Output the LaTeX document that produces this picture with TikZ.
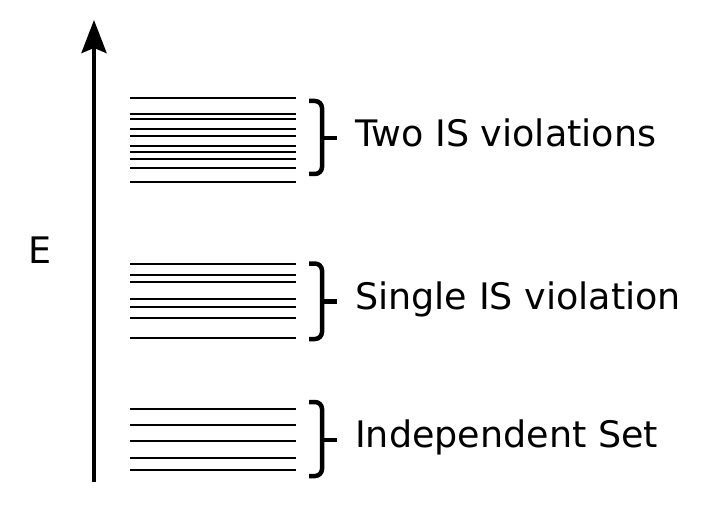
\documentclass[tikz,border=0pt]{standalone}
\usepackage{fontspec}
\setmainfont{DejaVu Sans}
\usetikzlibrary{arrows.meta,positioning}

\begin{document}
\begin{tikzpicture}[x=1pt,y=-1pt,
	nivel/.style={line width=2.2pt},
	chave/.style={line width=4.5pt,rounded corners=7pt},
	rotulo/.style={anchor=base west,inner sep=0pt,font=\fontsize{36.5}{44}\selectfont}]

	\useasboundingbox (0,0) rectangle (708,518);

	% Energy axis
	\coordinate (base) at (94,482);
	\coordinate (topo) at (94,20);
	\draw[line width=4pt,-{Stealth[length=33pt,width=25pt,inset=5pt]}] (base) -- (topo);
	\node[rotulo] (E) at (28,263) {E};

	% Two IS violations
	\foreach \y in {97.7,114.3,119.3,129.3,136,146,151.7,159,168.3,181.7}
		\draw[nivel] (130,\y) -- (296,\y);
	\coordinate (c1a) at (309,101);
	\coordinate (c1b) at (309,174);
	\coordinate (c1m) at (337,138);
	\draw[chave] (c1a) -- (322,101) -- (322,174) -- (c1b);
	\draw[line width=4.5pt] (322,138) -- (c1m);
	\node[rotulo] (dois) at (355,146.7) {Two IS violations};

	% Single IS violation
	\foreach \y in {264,275,282.3,299,306.7,317.7,338.3}
		\draw[nivel] (130,\y) -- (296,\y);
	\coordinate (c2a) at (309,263.5);
	\coordinate (c2b) at (309,339);
	\coordinate (c2m) at (337,301.5);
	\draw[chave] (c2a) -- (322,263.5) -- (322,339) -- (c2b);
	\draw[line width=4.5pt] (322,301.5) -- (c2m);
	\node[rotulo] (uma) at (355,309.5) {Single IS violation};

	% Independent Set
	\foreach \y in {409.3,425,441,457.7,470}
		\draw[nivel] (130,\y) -- (296,\y);
	\coordinate (c3a) at (309,402);
	\coordinate (c3b) at (309,476);
	\coordinate (c3m) at (337,440);
	\draw[chave] (c3a) -- (322,402) -- (322,476) -- (c3b);
	\draw[line width=4.5pt] (322,440) -- (c3m);
	\node[rotulo] (indep) at (355,447.7) {Independent Set};

\end{tikzpicture}
\end{document}
